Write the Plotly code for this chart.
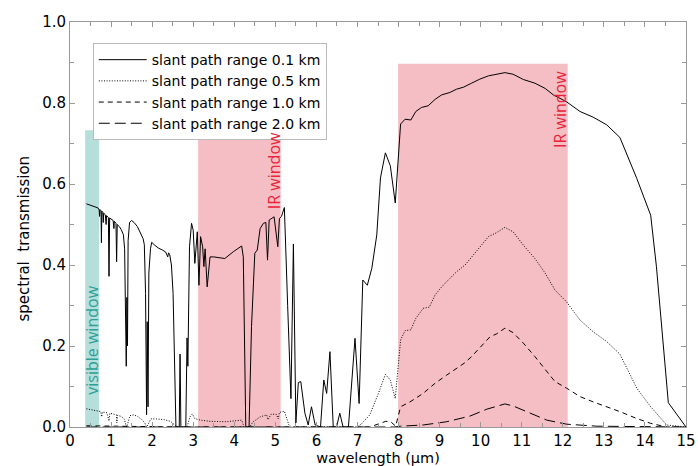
import plotly.graph_objects as go

# ---------------- data ----------------
x_01 = [0.40, 0.55, 0.68, 0.71, 0.72, 0.73, 0.755, 0.765, 0.775, 0.80, 0.81, 0.82, 0.86, 0.88, 0.89,
        0.935, 0.950, 0.965, 1.00, 1.05, 1.07, 1.08, 1.12, 1.135, 1.15, 1.20, 1.25, 1.30, 1.33, 1.35,
        1.37, 1.385, 1.40, 1.415, 1.45, 1.50, 1.56, 1.64, 1.72, 1.78, 1.81, 1.84, 1.865, 1.88, 1.90,
        1.92, 1.96, 1.99, 2.05, 2.15, 2.25, 2.33, 2.38, 2.40, 2.43, 2.47, 2.51, 2.55, 2.58, 2.66,
        2.68, 2.70, 2.82, 2.85, 2.87, 2.91, 2.96, 3.00, 3.04, 3.10, 3.14, 3.18, 3.23, 3.26, 3.29,
        3.34, 3.41, 3.50, 3.77, 3.98, 4.18, 4.22, 4.28, 4.36, 4.42, 4.50, 4.56, 4.63, 4.71, 4.77,
        4.81, 4.85, 4.97, 5.06, 5.10, 5.15, 5.22, 5.30, 5.38, 5.44, 5.50, 5.56, 5.62, 5.72, 5.80,
        5.88, 5.97, 6.10, 6.18, 6.25, 6.33, 6.41, 6.49, 6.57, 6.65, 6.78, 6.94, 7.04, 7.13, 7.24,
        7.35, 7.47, 7.56, 7.68, 7.80, 7.92, 8.05, 8.16, 8.30, 8.42, 8.56, 8.72, 8.89, 9.05, 9.25,
        9.41, 9.58, 9.78, 9.98, 10.19, 10.39, 10.59, 10.79, 11.04, 11.32, 11.57, 11.77, 12.09, 12.42,
        12.74, 13.07, 13.39, 13.80, 14.14, 14.28, 14.57, 15.00]
y_01 = [0.551, 0.546, 0.541, 0.536, 0.520, 0.537, 0.534, 0.455, 0.533, 0.530, 0.505, 0.528, 0.524, 0.500, 0.522,
        0.517, 0.372, 0.516, 0.513, 0.510, 0.490, 0.508, 0.503, 0.408, 0.500, 0.495, 0.487, 0.475, 0.440, 0.300,
        0.150, 0.320, 0.200, 0.460, 0.505, 0.510, 0.505, 0.495, 0.478, 0.465, 0.450, 0.330, 0.030, 0.260, 0.050,
        0.380, 0.440, 0.456, 0.450, 0.442, 0.437, 0.432, 0.420, 0.430, 0.425, 0.400, 0.330, 0.150, 0.000, 0.000,
        0.180, 0.000, 0.000, 0.220, 0.150, 0.445, 0.503, 0.486, 0.404, 0.482, 0.350, 0.470, 0.445, 0.396, 0.440,
        0.346, 0.420, 0.420, 0.416, 0.433, 0.447, 0.420, 0.000, 0.000, 0.248, 0.429, 0.437, 0.490, 0.503, 0.505,
        0.412, 0.511, 0.519, 0.445, 0.515, 0.520, 0.542, 0.300, 0.070, 0.452, 0.010, 0.110, 0.112, 0.034, 0.005,
        0.050, 0.005, 0.000, 0.116, 0.083, 0.186, 0.000, 0.000, 0.034, 0.000, 0.000, 0.219, 0.058, 0.363, 0.350,
        0.392, 0.474, 0.615, 0.677, 0.645, 0.553, 0.748, 0.760, 0.758, 0.779, 0.789, 0.793, 0.809, 0.820, 0.826,
        0.834, 0.839, 0.849, 0.859, 0.867, 0.871, 0.875, 0.871, 0.858, 0.849, 0.836, 0.820, 0.803, 0.779,
        0.765, 0.746, 0.715, 0.614, 0.523, 0.396, 0.060, 0.000]

x_05 = [0.40, 0.60, 0.75, 0.77, 0.79, 0.90, 0.95, 0.97, 1.05, 1.13, 1.14, 1.16, 1.25, 1.32, 1.36, 1.38,
        1.41, 1.46, 1.55, 1.65, 1.75, 1.82, 1.87, 1.91, 1.97, 2.10, 2.30, 2.45, 2.55, 2.60, 2.85, 2.92,
        2.98, 3.04, 3.17, 3.41, 3.80, 4.18, 4.24, 4.38, 4.45, 4.63, 4.79, 4.82, 4.90, 5.03, 5.07, 5.10,
        5.22, 5.33, 5.40, 7.00, 7.10, 7.30, 7.51, 7.68, 7.80, 7.92, 8.05, 8.16, 8.30, 8.42, 8.60, 8.75,
        8.89, 9.05, 9.25, 9.41, 9.62, 9.78, 9.98, 10.19, 10.39, 10.59, 10.79, 11.04, 11.32, 11.57, 11.81,
        12.09, 12.42, 12.74, 13.07, 13.39, 13.80, 14.14, 14.53, 15.00]
y_05 = [0.045, 0.041, 0.038, 0.025, 0.037, 0.035, 0.015, 0.034, 0.032, 0.030, 0.010, 0.029, 0.026, 0.020, 0.005, 0.000,
        0.010, 0.028, 0.030, 0.026, 0.018, 0.010, 0.000, 0.008, 0.020, 0.020, 0.018, 0.014, 0.005, 0.000, 0.000, 0.025,
        0.032, 0.021, 0.017, 0.014, 0.013, 0.017, 0.000, 0.000, 0.012, 0.025, 0.030, 0.018, 0.032, 0.031, 0.020, 0.036,
        0.039, 0.005, 0.000, 0.000, 0.008, 0.030, 0.083, 0.130, 0.116, 0.070, 0.215, 0.238, 0.240, 0.268, 0.293, 0.296,
        0.326, 0.346, 0.367, 0.383, 0.400, 0.420, 0.445, 0.470, 0.480, 0.493, 0.482, 0.449, 0.416, 0.380, 0.338,
        0.309, 0.264, 0.235, 0.211, 0.180, 0.096, 0.050, 0.005, 0.000]

x_10 = [0.40, 2.50, 2.60, 7.30, 7.55, 7.69, 7.81, 7.93, 8.05, 8.28, 8.60, 8.89, 9.17, 9.41, 9.62, 9.78,
        9.98, 10.23, 10.39, 10.59, 10.79, 11.04, 11.32, 11.57, 11.81, 12.09, 12.42, 12.74, 13.07, 13.39,
        13.80, 14.14, 14.53, 15.00]
y_10 = [0.003, 0.001, 0.000, 0.000, 0.008, 0.014, 0.013, 0.002, 0.050, 0.062, 0.083, 0.108, 0.128, 0.145, 0.159, 0.174,
        0.197, 0.223, 0.230, 0.244, 0.233, 0.207, 0.174, 0.142, 0.112, 0.096, 0.075, 0.062, 0.050, 0.038,
        0.021, 0.009, 0.000, 0.000]

x_20 = [0.40, 7.90, 8.05, 8.60, 9.17, 9.74, 10.15, 10.59, 10.79, 11.20, 11.61, 12.09, 12.83, 15.00]
y_20 = [0.000, 0.000, 0.002, 0.005, 0.013, 0.027, 0.044, 0.057, 0.052, 0.034, 0.017, 0.007, 0.002, 0.000]

series_names = ["slant path range 0.1 km", "slant path range 0.5 km",
                "slant path range 1.0 km", "slant path range 2.0 km"]
series_dash = ["solid", "1px,1.6px", "5px,4px", "11px,5px"]

# window bands
window_x0 = [0.37, 3.12, 7.99]
window_x1 = [0.71, 5.13, 12.12]
window_top = [0.733, 0.742, 0.897]
window_fill = ["#b6dedb", "#f5bec5", "#f5bec5"]
window_label = ["visible window", "IR window", "IR window"]
window_label_color = ["#2aa198", "#e8243a", "#e8243a"]
window_label_x = [0.53, 4.97, 11.93]
window_label_y = [0.215, 0.632, 0.785]

x_ticks = list(range(0, 16))
y_ticks = [0.0, 0.2, 0.4, 0.6, 0.8, 1.0]

FONT = "DejaVu Sans"

# ---------------- figure ----------------
fig = go.Figure()

for (xs, ys), name, dash in zip([(x_01, y_01), (x_05, y_05), (x_10, y_10), (x_20, y_20)],
                                series_names, series_dash):
    fig.add_trace(go.Scatter(x=xs, y=ys, mode="lines", name=name,
                             line=dict(color="black", width=1, dash=dash)))

for x0, x1, top, fill in zip(window_x0, window_x1, window_top, window_fill):
    fig.add_shape(type="rect", xref="x", yref="y", x0=x0, x1=x1, y0=0, y1=top,
                  fillcolor=fill, line=dict(width=0), layer="below")

for lab, col, lx, ly in zip(window_label, window_label_color, window_label_x, window_label_y):
    fig.add_annotation(x=lx, y=ly, xref="x", yref="y", text=lab, showarrow=False,
                       textangle=-90, font=dict(family="Open Sans", size=16, color=col))

# y-axis title placed slightly below the plot's vertical centre, as in the reference
fig.add_annotation(x=-0.075, y=0.465, xref="paper", yref="paper", text="spectral  transmission",
                   showarrow=False, textangle=-90, xanchor="center", yanchor="middle",
                   font=dict(family=FONT, size=15, color="black"))

axis_common = dict(showgrid=False, zeroline=False, showline=True, linecolor="#999999", linewidth=1,
                   mirror="allticks", ticks="inside", ticklen=5, tickcolor="#999999",
                   automargin=False,
                   tickfont=dict(family=FONT, size=15, color="black"))

fig.update_xaxes(range=[0, 15], tickvals=x_ticks, ticktext=[str(v) for v in x_ticks],
                 minor=dict(dtick=0.5, ticks="inside", ticklen=4, tickcolor="#999999"),
                 title=dict(text="wavelength (µm)", standoff=2,
                            font=dict(family=FONT, size=14.5, color="black")),
                 **axis_common)
fig.update_yaxes(range=[0, 1], tickvals=y_ticks, ticktext=[f"{v:.1f}" for v in y_ticks],
                 minor=dict(dtick=0.1, ticks="inside", ticklen=4, tickcolor="#999999"),
                 **axis_common)

fig.update_layout(
    width=698, height=466,
    margin=dict(l=70, r=12, t=22, b=39),
    plot_bgcolor="white", paper_bgcolor="white",
    showlegend=True,
    legend=dict(x=0.037, y=0.948, xanchor="left", yanchor="top",
                bgcolor="white", bordercolor="#bbbbbb", borderwidth=1,
                font=dict(family=FONT, size=14, color="black"),
                itemwidth=48),
)

fig.write_html("out.html")
